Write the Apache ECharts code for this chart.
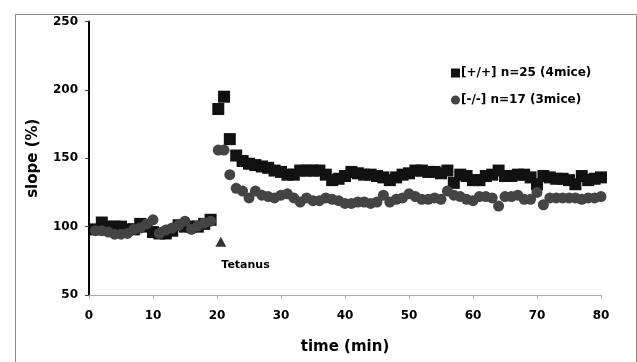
<!DOCTYPE html>
<html><head><meta charset="utf-8">
<script src="https://cdn.jsdelivr.net/npm/echarts@6/dist/echarts.min.js"></script>
<style>html,body{margin:0;padding:0;background:#fff}#c{width:637px;height:362px}</style>
</head><body><div id="c"></div>
<script>
const times = [1,2,3,4,5,6,7,8,9,10,11,12,13,14,15,16,17,18,19,
  20.2,21.1,22,23,24,25,26,27,28,29,30,31,32,33,34,35,36,37,38,39,40,
  41,42,43,44,45,46,47,48,49,50,51,52,53,54,55,56,57,58,59,60,
  61,62,63,64,65,66,67,68,69,70,71,72,73,74,75,76,77,78,79,80];
const wtValues = [98,103,100,100,100,98,98,102,100,96,95,95,97,101,100,100,100,102,105,
  186,195,164,152,148,146,145,144,143,141,140,138,138,141,141,141,141,138,134,135,137,
  140,139,138,138,137,136,134,136,138,139,141,141,140,140,139,141,132,138,137,134,
  134,137,138,141,137,137,138,138,136,131,137,136,135,135,134,131,137,134,135,136];
const koValues = [97,97,96,94.5,94.5,95,98,99,102,105,95,97.5,99,101,104,98,100.5,102.5,104,
  156,156,138,128,126,121,126,123,122,121,123,124,121,118,121,119,119,121,120,119,117,
  117,118,118,117,118,123,118,120,121,124,122,120,120,121,120,126,123,122,120,119,
  122,122,121,115,122,122,123,120,120,125,116,121,121,121,121,121,120,121,121,122];
const seriesNames = ['[+/+] n=25 (4mice)', '[-/-] n=17 (3mice)'];
const tetanusPoint = [20.6, 89];
const tetanusLabel = 'Tetanus';
const xTicks = {min: 0, max: 80, interval: 10};
const yTicks = {min: 50, max: 250, interval: 50};

const chart = echarts.init(document.getElementById('c'));
const font = 'DejaVu Sans, sans-serif';
chart.setOption({
  animation: false,
  backgroundColor: '#fff',
  textStyle: {fontFamily: font},
  graphic: [{
    type: 'rect', left: 13, top: 12, silent: true, z: -1,
    shape: {x: 0, y: 0, width: 621, height: 360},
    style: {fill: 'none', stroke: '#8a8a8a', lineWidth: 1}
  }],
  grid: {left: 89, right: 36, top: 21.5, bottom: 67},
  legend: {
    orient: 'vertical', left: 446, top: 62, itemGap: 15,
    itemWidth: 9, itemHeight: 9,
    textStyle: {fontFamily: font, fontWeight: 'bold', fontSize: 12, color: '#000', padding: [0,0,0,-4]},
    data: [
      {name: seriesNames[0], icon: 'rect'},
      {name: seriesNames[1], icon: 'circle'}
    ]
  },
  xAxis: {
    type: 'value', min: xTicks.min, max: xTicks.max, interval: xTicks.interval,
    name: 'time (min)', nameLocation: 'middle', nameGap: 45,
    nameTextStyle: {fontFamily: font, fontWeight: 'bold', fontSize: 15, color: '#000'},
    axisLine: {show: true, onZero: false, lineStyle: {color: '#aaa', width: 1}},
    axisTick: {show: true, length: 4, lineStyle: {color: '#aaa'}},
    splitLine: {show: false},
    axisLabel: {fontFamily: font, fontWeight: 'bold', fontSize: 12, color: '#000', margin: 15}
  },
  yAxis: {
    type: 'value', min: yTicks.min, max: yTicks.max, interval: yTicks.interval,
    name: 'slope (%)', nameLocation: 'middle', nameGap: 48, nameRotate: 90,
    nameTextStyle: {fontFamily: font, fontWeight: 'bold', fontSize: 15, color: '#000'},
    axisLine: {show: true, lineStyle: {color: '#000', width: 2}},
    axisTick: {show: true, length: 4, lineStyle: {color: '#444'}},
    splitLine: {show: false},
    axisLabel: {fontFamily: font, fontWeight: 'bold', fontSize: 12, color: '#000', margin: 11}
  },
  series: [
    {
      name: seriesNames[0], type: 'scatter', symbol: 'rect', symbolSize: 12,
      itemStyle: {color: '#111', opacity: 1},
      data: times.map((t, i) => [t, wtValues[i]]), z: 2
    },
    {
      name: seriesNames[1], type: 'scatter', symbol: 'circle', symbolSize: 11,
      itemStyle: {color: '#444', opacity: 1},
      data: times.map((t, i) => [t, koValues[i]]), z: 3
    },
    {
      name: 'tetanus', type: 'scatter', symbol: 'triangle', symbolSize: [11, 10],
      itemStyle: {color: '#000'},
      label: {show: true, formatter: tetanusLabel, position: [6, 23], align: 'left', verticalAlign: 'top',
        fontFamily: font, fontWeight: 'bold', fontSize: 11, color: '#000', opacity: 1},
      emphasis: {disabled: true},
      data: [tetanusPoint], z: 4
    }
  ]
});
</script></body></html>
